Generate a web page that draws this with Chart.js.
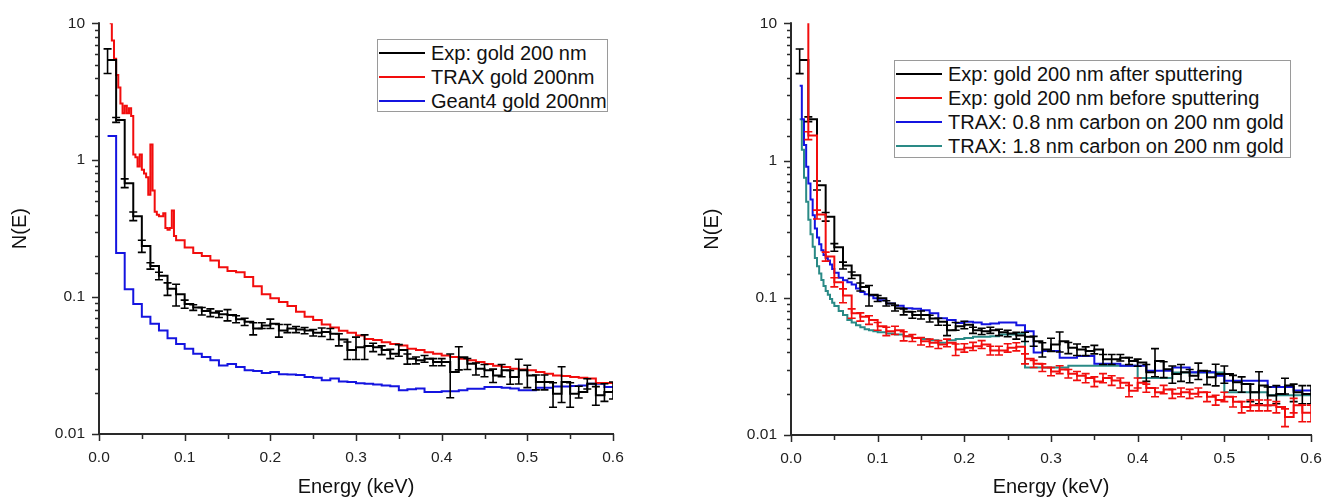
<!DOCTYPE html>
<html>
<head>
<meta charset="utf-8">
<script src="https://cdn.jsdelivr.net/npm/chart.js@4.4.1/dist/chart.umd.min.js"></script>
<style>
    body { margin: 0; background: #fff; font-family: "Liberation Sans", Arial, sans-serif; }
    #wrap { position: relative; width: 1336px; height: 500px; overflow: hidden; }
    .panel { position: absolute; top: 0; width: 668px; height: 500px; }
    .legend { position: absolute; border: 1px solid #9a9a9a; background: #fff; box-sizing: border-box; padding-top: 1px; }
    .legend .row { display: flex; align-items: center; height: 24px; font-size: 20px; color: #111; white-space: nowrap; }
    .legend .swatch { width: 46px; height: 2px; margin: 0 6px 0 1px; }
</style>
</head>
<body>
<div id="wrap">
    <div class="panel" style="left:0"><canvas id="chartLeft" width="668" height="500"></canvas></div>
    <div class="panel" style="left:668px"><canvas id="chartRight" width="668" height="500"></canvas></div>
    <div class="legend" id="legendLeft" style="left:377px; top:39px; width:231px; height:73px"></div>
    <div class="legend" id="legendRight" style="left:894px; top:60px; width:397px; height:98px"></div>
</div>
<script>
// energy grid of the measured spectra (keV), one point per 10 eV
const binE = [0.01, 0.02, 0.03, 0.04, 0.05, 0.06, 0.07, 0.08, 0.09, 0.10,
    0.11, 0.12, 0.13, 0.14, 0.15, 0.16, 0.17, 0.18, 0.19, 0.20,
    0.21, 0.22, 0.23, 0.24, 0.25, 0.26, 0.27, 0.28, 0.29, 0.30,
    0.31, 0.32, 0.33, 0.34, 0.35, 0.36, 0.37, 0.38, 0.39, 0.40,
    0.41, 0.42, 0.43, 0.44, 0.45, 0.46, 0.47, 0.48, 0.49, 0.50,
    0.51, 0.52, 0.53, 0.54, 0.55, 0.56, 0.57, 0.58, 0.59, 0.60];

const xTickLabels = ["0.0", "0.1", "0.2", "0.3", "0.4", "0.5", "0.6"];
const yTickLabels = ["0.01", "0.1", "1", "10"];

// ---- left panel ----
const expGold = [5.4, 1.97, 0.68, 0.39, 0.236, 0.169, 0.143, 0.115, 0.105, 0.089,
    0.084, 0.079, 0.077, 0.075, 0.074, 0.069, 0.066, 0.059, 0.062, 0.064,
    0.057, 0.059, 0.058, 0.057, 0.055, 0.0555, 0.054, 0.049, 0.041, 0.043,
    0.044, 0.043, 0.041, 0.0385, 0.041, 0.0354, 0.0345, 0.0354, 0.0335, 0.0335,
    0.0284, 0.0364, 0.0326, 0.030, 0.0292, 0.0268, 0.0292, 0.0261, 0.0292, 0.0268,
    0.024, 0.024, 0.0197, 0.024, 0.0197, 0.0203, 0.0233, 0.0192, 0.0203, 0.021];
const expGoldErr = [1.1, 0.08, 0.05, 0.028, 0.024, 0.009, 0.009, 0.012, 0.019, 0.006,
    0.004, 0.005, 0.005, 0.004, 0.007, 0.004, 0.004, 0.006, 0.003, 0.005,
    0.006, 0.004, 0.003, 0.003, 0.003, 0.004, 0.005, 0.005, 0.006, 0.008,
    0.009, 0.003, 0.003, 0.003, 0.004, 0.003, 0.002, 0.002, 0.002, 0.002,
    0.01, 0.007, 0.003, 0.003, 0.003, 0.003, 0.003, 0.003, 0.006, 0.005,
    0.003, 0.003, 0.004, 0.007, 0.004, 0.002, 0.002, 0.003, 0.003, 0.003];

const traxE = [0.0125, 0.015, 0.0175, 0.02, 0.0225, 0.025, 0.0275, 0.03, 0.0325, 0.035,
    0.0375, 0.04, 0.0425, 0.045, 0.0475, 0.05, 0.0525, 0.055, 0.0575, 0.06,
    0.0625, 0.065, 0.0675, 0.07, 0.0725, 0.075, 0.0775, 0.08, 0.0825, 0.085, 0.0875,
    0.09, 0.10, 0.11, 0.12, 0.13, 0.14, 0.15, 0.16, 0.17, 0.18, 0.19, 0.20,
    0.21, 0.22, 0.23, 0.24, 0.25, 0.26, 0.27, 0.28, 0.29, 0.30,
    0.31, 0.32, 0.33, 0.34, 0.35, 0.36, 0.37, 0.38, 0.39, 0.40,
    0.41, 0.42, 0.43, 0.44, 0.45, 0.46, 0.47, 0.48, 0.49, 0.50,
    0.51, 0.52, 0.53, 0.54, 0.55, 0.56, 0.57, 0.58, 0.59, 0.60];
const traxGold = [10, 7.5, 5.5, 4.2, 3.4, 2.6, 2.2, 2.5, 2.2, 2.4,
    2.1, 1.1, 1.05, 0.9, 1.1, 0.85, 0.8, 0.75, 0.56, 1.3,
    0.6, 0.42, 0.40, 0.39, 0.39, 0.41, 0.32, 0.31, 0.32, 0.43, 0.28,
    0.26, 0.23, 0.21, 0.2, 0.185, 0.165, 0.155, 0.152, 0.14, 0.12, 0.105, 0.098,
    0.092, 0.086, 0.078, 0.072, 0.068, 0.063, 0.060, 0.0569, 0.055, 0.0524,
    0.0495, 0.0485, 0.0468, 0.0455, 0.0443, 0.0419, 0.041, 0.0396, 0.0385, 0.0375,
    0.0365, 0.0354, 0.0345, 0.0335, 0.0325, 0.0315, 0.0308, 0.030, 0.0296, 0.0292,
    0.0284, 0.0276, 0.0268, 0.0265, 0.0261, 0.0258, 0.0254, 0.0236, 0.0236, 0.0236];

const geant4Gold = [1.5, 0.21, 0.114, 0.089, 0.072, 0.064, 0.057, 0.050, 0.0455, 0.042,
    0.0385, 0.0365, 0.0345, 0.0316, 0.0325, 0.0308, 0.0292, 0.0288, 0.0279, 0.0284,
    0.0273, 0.0272, 0.027, 0.0261, 0.0258, 0.0247, 0.0254, 0.0242, 0.024, 0.0235,
    0.0233, 0.023, 0.0226, 0.0223, 0.0209, 0.0212, 0.0215, 0.0203, 0.0203, 0.0205,
    0.0205, 0.0209, 0.0214, 0.0214, 0.022, 0.022, 0.0218, 0.0215, 0.0209, 0.0209,
    0.0218, 0.0218, 0.0222, 0.0222, 0.0224, 0.0226, 0.0233, 0.0233, 0.022, 0.022];

// ---- right panel ----
const expAfter = [5.4, 2.0, 0.66, 0.39, 0.233, 0.172, 0.146, 0.12, 0.105, 0.099,
    0.091, 0.084, 0.079, 0.075, 0.075, 0.0706, 0.067, 0.058, 0.062, 0.0635,
    0.058, 0.057, 0.058, 0.056, 0.055, 0.053, 0.052, 0.0483, 0.042, 0.0457,
    0.0483, 0.0432, 0.042, 0.0409, 0.042, 0.0356, 0.0356, 0.0366, 0.0346, 0.0337,
    0.0286, 0.0346, 0.0302, 0.0278, 0.0286, 0.027, 0.0294, 0.0263, 0.0278, 0.0278,
    0.0242, 0.0235, 0.0205, 0.0229, 0.0194, 0.0199, 0.0229, 0.0205, 0.0199, 0.0199];
const expAfterErr = [1.1, 0.08, 0.05, 0.028, 0.015, 0.01, 0.008, 0.008, 0.018, 0.005,
    0.004, 0.004, 0.004, 0.004, 0.005, 0.004, 0.004, 0.005, 0.004, 0.004,
    0.003, 0.003, 0.003, 0.003, 0.003, 0.003, 0.004, 0.004, 0.005, 0.005,
    0.008, 0.004, 0.004, 0.003, 0.003, 0.003, 0.003, 0.002, 0.002, 0.002,
    0.004, 0.008, 0.004, 0.004, 0.004, 0.003, 0.004, 0.003, 0.005, 0.004,
    0.003, 0.003, 0.003, 0.006, 0.003, 0.003, 0.003, 0.003, 0.003, 0.003];

const expBefore = [20, 1.52, 0.405, 0.2, 0.13, 0.104, 0.077, 0.0726, 0.069, 0.062,
    0.057, 0.058, 0.0525, 0.051, 0.0483, 0.047, 0.0457, 0.047, 0.042, 0.0432,
    0.0443, 0.0457, 0.0413, 0.0413, 0.0432, 0.044, 0.036, 0.033, 0.031, 0.029,
    0.030, 0.028, 0.027, 0.026, 0.0245, 0.026, 0.025, 0.024, 0.021, 0.024,
    0.022, 0.0205, 0.0215, 0.020, 0.0205, 0.020, 0.0205, 0.019, 0.018, 0.019,
    0.0175, 0.016, 0.0165, 0.0165, 0.0165, 0.016, 0.0135, 0.0165, 0.0145, 0.0145];
const expBeforeErr = [0, 0.1, 0.03, 0.015, 0.01, 0.012, 0.006, 0.005, 0.005, 0.004,
    0.004, 0.004, 0.004, 0.003, 0.003, 0.003, 0.003, 0.003, 0.004, 0.003,
    0.003, 0.003, 0.003, 0.003, 0.003, 0.003, 0.003, 0.002, 0.002, 0.002,
    0.002, 0.002, 0.002, 0.002, 0.002, 0.002, 0.002, 0.002, 0.002, 0.002,
    0.0015, 0.0015, 0.0015, 0.0015, 0.0015, 0.0015, 0.0015, 0.0015, 0.0015, 0.0015,
    0.0015, 0.0015, 0.0015, 0.0015, 0.0015, 0.0015, 0.002, 0.002, 0.002, 0.002];

const carbon08E = [0.01, 0.0125, 0.015, 0.0175, 0.02, 0.0225, 0.025, 0.0275, 0.03, 0.0325,
    0.035, 0.0375, 0.04, 0.0425, 0.045, 0.0475, 0.05, 0.055, 0.06, 0.065,
    0.07, 0.075, 0.08, 0.085, 0.09, 0.095, 0.10,
    0.11, 0.12, 0.13, 0.14, 0.15, 0.16, 0.17, 0.18, 0.19, 0.20,
    0.21, 0.22, 0.23, 0.24, 0.25, 0.26, 0.27, 0.28, 0.29, 0.30,
    0.31, 0.32, 0.33, 0.34, 0.35, 0.36, 0.37, 0.38, 0.39, 0.40,
    0.41, 0.42, 0.43, 0.44, 0.45, 0.46, 0.47, 0.48, 0.49, 0.50,
    0.51, 0.52, 0.53, 0.54, 0.55, 0.56, 0.57, 0.58, 0.59, 0.60];
const carbon08 = [3.5, 2.0, 1.3, 0.9, 0.68, 0.52, 0.40, 0.32, 0.275, 0.245,
    0.222, 0.205, 0.195, 0.187, 0.175, 0.162, 0.152, 0.140, 0.134, 0.130,
    0.125, 0.117, 0.110, 0.106, 0.104, 0.099, 0.096,
    0.091, 0.0875, 0.084, 0.083, 0.081, 0.077, 0.071, 0.069, 0.0655, 0.067,
    0.066, 0.064, 0.065, 0.066, 0.066, 0.063, 0.057, 0.040, 0.041, 0.041,
    0.0366, 0.0366, 0.0377, 0.0377, 0.033, 0.033, 0.033, 0.032, 0.032, 0.032,
    0.0294, 0.0294, 0.0294, 0.031, 0.031, 0.0286, 0.0286, 0.0286, 0.027, 0.0249,
    0.0249, 0.0249, 0.0249, 0.0249, 0.0224, 0.0224, 0.0224, 0.0211, 0.0211, 0.0211];

const carbon18E = [0.01, 0.0125, 0.015, 0.0175, 0.02, 0.0225, 0.025, 0.0275, 0.03, 0.0325,
    0.035, 0.0375, 0.04, 0.0425, 0.045, 0.0475, 0.05, 0.055, 0.06, 0.065,
    0.07, 0.075, 0.08, 0.085, 0.09, 0.095, 0.10,
    0.11, 0.12, 0.13, 0.14, 0.15, 0.16, 0.17, 0.18, 0.19, 0.20,
    0.21, 0.22, 0.23, 0.24, 0.25, 0.26, 0.27, 0.32, 0.40, 0.44, 0.50, 0.55, 0.60];
const carbon18 = [2.0, 1.2, 0.75, 0.50, 0.37, 0.29, 0.235, 0.195, 0.17, 0.15,
    0.135, 0.122, 0.112, 0.105, 0.098, 0.092, 0.087, 0.080, 0.075, 0.069,
    0.066, 0.063, 0.061, 0.059, 0.058, 0.057, 0.056,
    0.055, 0.054, 0.0525, 0.051, 0.050, 0.049, 0.047, 0.049, 0.050, 0.051,
    0.052, 0.052, 0.0525, 0.054, 0.054, 0.055, 0.031, 0.032, 0.026, 0.0285, 0.0205, 0.0195, 0.0195];

const pts = (xs, ys) => xs.map((x, i) => ({ x, y: ys[i] }));

function stepSet(label, color, xs, ys, errors, order) {
    return {
        label,
        data: pts(xs, ys),
        errors,
        order,
        borderColor: color,
        borderWidth: 2,
        stepped: "before",
        pointRadius: 0,
        fill: false,
        clip: 0
    };
}

// error bars and Origin-style axes drawn through the chart scales
const originPlugin = {
    id: "originAxes",
    afterDatasetDraw(chart, args) {
        const ds = chart.data.datasets[args.index];
        if (!ds.errors) return;
        const { ctx, chartArea: a, scales: { x, y } } = chart;
        ctx.save();
        ctx.beginPath();
        ctx.rect(a.left, a.top, a.right - a.left, a.bottom - a.top);
        ctx.clip();
        ctx.strokeStyle = ds.borderColor;
        ctx.lineWidth = 1.6;
        ds.data.forEach((p, i) => {
            const e = ds.errors[i];
            if (!e) return;
            const px = x.getPixelForValue(p.x);
            const yTop = y.getPixelForValue(p.y + e);
            const yBot = y.getPixelForValue(Math.max(p.y - e, 1e-4));
            ctx.beginPath();
            ctx.moveTo(px, yTop); ctx.lineTo(px, yBot);
            ctx.moveTo(px - 4, yTop); ctx.lineTo(px + 4, yTop);
            ctx.moveTo(px - 4, yBot); ctx.lineTo(px + 4, yBot);
            ctx.stroke();
        });
        ctx.restore();
    },
    afterDraw(chart) {
        const { ctx, chartArea: a, scales: { x, y } } = chart;
        ctx.save();
        ctx.strokeStyle = "#2a2a2a";
        ctx.lineWidth = 2;
        ctx.beginPath();
        ctx.moveTo(a.left, a.top - 1); ctx.lineTo(a.left, a.bottom);
        ctx.lineTo(a.right + 1, a.bottom);
        ctx.stroke();
        ctx.lineWidth = 1.5;
        ctx.beginPath();
        y.ticks.forEach(t => {
            const py = Math.round(y.getPixelForValue(t.value)) + 0.5;
            const lg = Math.log10(t.value);
            const len = Math.abs(lg - Math.round(lg)) < 1e-6 ? 7 : 4;
            ctx.moveTo(a.left - len, py); ctx.lineTo(a.left, py);
        });
        x.ticks.forEach(t => {
            const px = Math.round(x.getPixelForValue(t.value)) + 0.5;
            const major = Math.abs(t.value * 10 - Math.round(t.value * 10)) < 1e-6;
            ctx.moveTo(px, a.bottom); ctx.lineTo(px, a.bottom + (major ? 7 : 5));
        });
        ctx.stroke();
        ctx.restore();
    }
};

function makeChart(canvasId, datasets, area) {
    const ctx = document.getElementById(canvasId);
    const family = "'Liberation Sans', Arial, sans-serif";
    const font = { family, size: 15.5 };
    return new Chart(ctx, {
        type: "line",
        data: { datasets },
        plugins: [originPlugin],
        options: {
            responsive: false,
            animation: false,
            events: [],
            layout: { padding: { left: 0, top: area.top, right: area.right, bottom: 0 } },
            plugins: { legend: { display: false }, tooltip: { enabled: false } },
            scales: {
                x: {
                    type: "linear",
                    min: 0,
                    max: 0.6,
                    grid: { display: false, drawTicks: false },
                    border: { display: false },
                    afterFit: s => { s.height = area.xHeight; },
                    ticks: {
                        stepSize: 0.05,
                        autoSkip: false,
                        maxRotation: 0,
                        padding: 14,
                        color: "#222",
                        font,
                        callback: v => {
                            const k = Math.round(v * 10);
                            return Math.abs(v * 10 - k) < 1e-6 ? xTickLabels[k] : "";
                        }
                    },
                    title: {
                        display: true,
                        text: "Energy (keV)",
                        color: "#111",
                        font: { family, size: 20 },
                        padding: { top: 0, bottom: 1 }
                    }
                },
                y: {
                    type: "logarithmic",
                    min: 0.01,
                    max: 10,
                    grid: { display: false, drawTicks: false },
                    border: { display: false },
                    afterFit: s => { s.width = area.yWidth; },
                    ticks: {
                        autoSkip: false,
                        padding: 14,
                        color: "#222",
                        font,
                        callback: v => {
                            const lg = Math.log10(v);
                            const k = Math.round(lg);
                            return Math.abs(lg - k) < 1e-6 ? yTickLabels[k + 2] : "";
                        }
                    },
                    title: {
                        display: true,
                        text: "N(E)",
                        color: "#111",
                        font: { family, size: 20 },
                        padding: { top: area.titlePad, bottom: 0 }
                    }
                }
            }
        }
    });
}

function buildLegend(elId, chart) {
    const box = document.getElementById(elId);
    chart.data.datasets.forEach(ds => {
        const row = document.createElement("div");
        row.className = "row";
        const sw = document.createElement("span");
        sw.className = "swatch";
        sw.style.background = ds.borderColor;
        const txt = document.createElement("span");
        txt.textContent = ds.label;
        row.appendChild(sw);
        row.appendChild(txt);
        box.appendChild(row);
    });
}

const RED = "#f20d0d", BLUE = "#1414e0", TEAL = "#2a8a86", BLACK = "#000000";

const left = makeChart("chartLeft", [
    stepSet("Exp: gold 200 nm", BLACK, binE, expGold, expGoldErr, 0),
    stepSet("TRAX gold 200nm", RED, traxE, traxGold, null, 1),
    stepSet("Geant4 gold 200nm", BLUE, binE, geant4Gold, null, 2)
], { top: 21, right: 55, xHeight: 66, yWidth: 99, titlePad: 8 });

const right = makeChart("chartRight", [
    stepSet("Exp: gold 200 nm after sputtering", BLACK, binE, expAfter, expAfterErr, 1),
    stepSet("Exp: gold 200 nm before sputtering", RED, binE, expBefore, expBeforeErr, 0),
    stepSet("TRAX: 0.8 nm carbon on 200 nm gold", BLUE, carbon08E, carbon08, null, 2),
    stepSet("TRAX: 1.8 nm carbon on 200 nm gold", TEAL, carbon18E, carbon18, null, 3)
], { top: 18, right: 25, xHeight: 65, yWidth: 123, titlePad: 32 });

buildLegend("legendLeft", left);
buildLegend("legendRight", right);
</script>
</body>
</html>
